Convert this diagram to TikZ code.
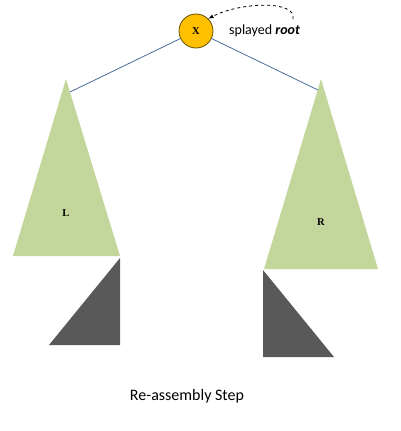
\documentclass[tikz,border=0pt]{standalone}
\usepackage{fontspec}
\setmainfont{Carlito}
\newfontfamily\serifbold{Liberation Serif}
\definecolor{treegreen}{HTML}{C3D69B}
\definecolor{subgray}{HTML}{595959}
\definecolor{rootorange}{HTML}{FFC000}
\definecolor{edgeblue}{HTML}{4A6D9C}
\tikzset{
	subtree/.style={fill=treegreen,draw=none},
	piece/.style={fill=subgray,draw=none},
	edge/.style={draw=edgeblue,line width=0.8pt},
	lbl/.style={font=\serifbold\bfseries\fontsize{10.5}{10.5}\selectfont}
}
\begin{document}
	\begin{tikzpicture}[x=1pt,y=-1pt]
		\useasboundingbox (0,0) rectangle (400,431);
		% subtrees
		\fill[subtree] (66,79) -- (13,256) -- (120,256) -- cycle;
		\fill[subtree] (321,79) -- (264,269) -- (378,269) -- cycle;
		\fill[piece] (120,258) -- (120,345) -- (49,345) -- cycle;
		\fill[piece] (263,270) -- (263,357) -- (334,357) -- cycle;
		\coordinate (la) at (70,92);
		\coordinate (ra) at (318,90);
		\node [lbl] (L) at (66,213) {L};
		\node [lbl] (R) at (321,222) {R};
		% root
		\node [circle,draw=black!60!rootorange,line width=0.8pt,fill=rootorange,minimum size=34pt,inner sep=0pt,lbl] (x) at (196,31) {X};
		\draw [edge] (x) -- (la);
		\draw [edge] (x) -- (ra);
		\node [anchor=west,font=\fontsize{14}{14}\selectfont,inner sep=0pt] (s) at (229,31) {splayed \textbf{\textit{root}}};
		\coordinate (c) at (293,19);
		\draw [dashed,line width=0.8pt,-latex] (c) .. controls (297,0) and (240,2) .. (x.north east);
		\node [font=\fontsize{16}{16}\selectfont] (cap) at (187,396) {Re-assembly Step};
	\end{tikzpicture}
\end{document}
